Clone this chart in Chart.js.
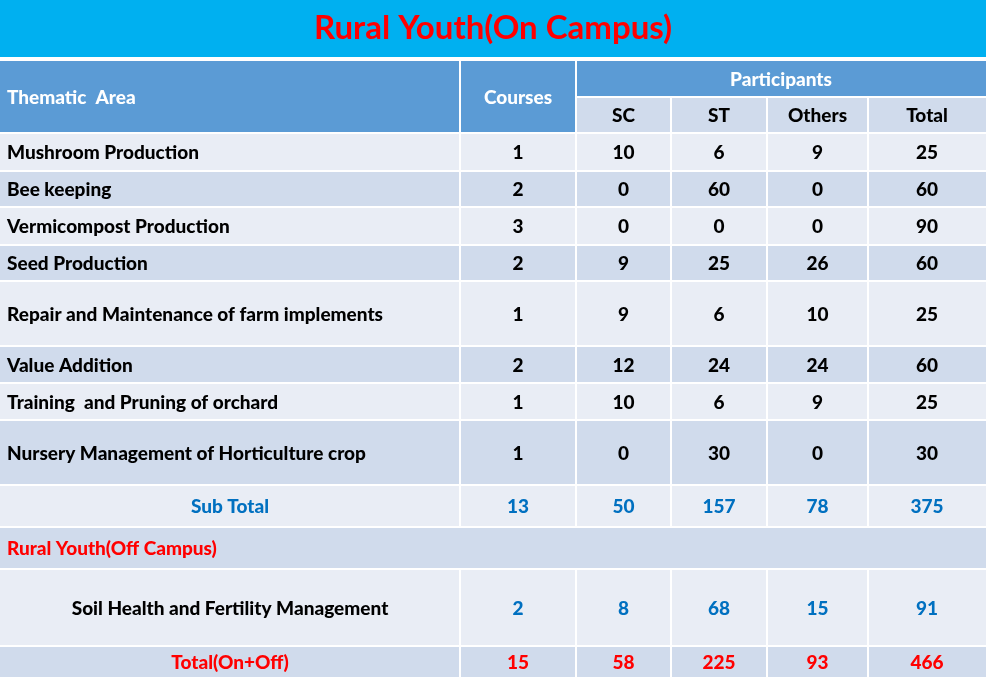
<!DOCTYPE html>
<html>
<head>
<meta charset="utf-8">
<script src="https://cdn.jsdelivr.net/npm/chart.js@4.4.1/dist/chart.umd.min.js"></script>
<style>
  html, body { margin: 0; padding: 0; background: #fff; }
  #wrap { width: 986px; height: 678px; position: relative; }
</style>
</head>
<body>
<div id="wrap"><canvas id="c"></canvas></div>
<script>
// ---- data ----
const titleText = "Rural Youth(On Campus)";
const headerLabels = ["Thematic  Area", "Courses", "Participants"];
const subHeaderLabels = ["SC", "ST", "Others", "Total"];
const categories = [
  "Mushroom Production",
  "Bee keeping",
  "Vermicompost Production",
  "Seed Production",
  "Repair and Maintenance of farm implements",
  "Value Addition",
  "Training  and Pruning of orchard",
  "Nursery Management of Horticulture crop"
];
const courses = [1, 2, 3, 2, 1, 2, 1, 1];
const sc      = [10, 0, 0, 9, 9, 12, 10, 0];
const st      = [6, 60, 0, 25, 6, 24, 6, 30];
const others  = [9, 0, 0, 26, 10, 24, 9, 0];
const total   = [25, 60, 90, 60, 25, 60, 25, 30];
const subTotalLabel = "Sub Total";
const subTotal = [13, 50, 157, 78, 375];
const offSectionLabel = "Rural Youth(Off Campus)";
const offCategories = ["Soil Health and Fertility Management"];
const offCourses = [2];
const offSC = [8];
const offST = [68];
const offOthers = [15];
const offTotal = [91];
const grandLabel = "Total(On+Off)";
const grandTotal = [15, 58, 225, 93, 466];

// ---- layout (sizes, in scale units) ----
const colWidths = [460, 116, 95, 96, 101, 118];
const rowHeights = [37, 36, 38, 36, 38, 36, 65, 37, 37, 65, 42, 42, 77, 32];

const colEdges = [0]; colWidths.forEach(w => colEdges.push(colEdges[colEdges.length-1] + w));
const rowEdges = [0]; rowHeights.forEach(h => rowEdges.push(rowEdges[rowEdges.length-1] + h));

const C = {
  bar: '#00B0F0', header: '#5B9BD5', light: '#E9EDF5', dark: '#D0DBEC',
  black: '#000000', blue: '#0070C0', red: '#FF0000', white: '#FFFFFF'
};
const FONT = 'Lato';
const FS = 19;
const WEIGHT = '900';

const tablePlugin = {
  id: 'tablePlugin',
  beforeDraw(chart) {
    const ctx = chart.ctx;
    ctx.save();
    ctx.fillStyle = '#fff';
    ctx.fillRect(0, 0, chart.width, chart.height);
    ctx.fillStyle = C.bar;
    ctx.fillRect(0, 0, chart.width, chart.chartArea.top - 3);
    ctx.restore();
  },
  afterDraw(chart) {
    const ctx = chart.ctx;
    const xs = chart.scales.x, ys = chart.scales.y;
    const X = i => xs.getPixelForValue(colEdges[i]);
    const Y = i => ys.getPixelForValue(rowEdges[i]);
    ctx.save();
    function cell(c0, c1, r0, r1, fill) {
      const x0 = X(c0), x1 = X(c1), y0 = Y(r0), y1 = Y(r1);
      ctx.fillStyle = fill;
      ctx.fillRect(x0 + (c0 === 0 ? 0 : 1), y0 + 1, x1 - x0 - (c0 === 0 ? 1 : 2) + (c1 === colWidths.length ? 1 : 0), y1 - y0 - 2);
    }
    function text(str, c0, c1, r0, r1, color, align, size) {
      ctx.font = WEIGHT + ' ' + (size || FS) + 'px ' + FONT;
      ctx.fillStyle = color;
      ctx.textBaseline = 'middle';
      const y = (Y(r0) + Y(r1)) / 2 + 1;
      if (align === 'left') {
        ctx.textAlign = 'left';
        ctx.fillText(str, X(c0) + 7, y);
      } else {
        ctx.textAlign = 'center';
        ctx.fillText(str, (X(c0) + X(c1)) / 2, y);
      }
    }
    // header
    cell(0, 1, 0, 2, C.header);
    cell(1, 2, 0, 2, C.header);
    cell(2, 6, 0, 1, C.header);
    for (let j = 0; j < 4; j++) cell(2 + j, 3 + j, 1, 2, C.dark);
    text(headerLabels[0], 0, 1, 0, 2, C.white, 'left');
    text(headerLabels[1], 1, 2, 0, 2, C.white, 'center');
    text(headerLabels[2], 2, 6, 0, 1, C.white, 'center');
    subHeaderLabels.forEach((s, j) => text(s, 2 + j, 3 + j, 1, 2, C.black, 'center'));

    // body rows
    function dataRow(r, label, vals, fill, labelColor, valColor, labelAlign) {
      for (let j = 0; j < 6; j++) cell(j, j + 1, r, r + 1, fill);
      text(label, 0, 1, r, r + 1, labelColor, labelAlign);
      vals.forEach((v, j) => text(String(v), 1 + j, 2 + j, r, r + 1, valColor, 'center'));
    }
    let r = 2;
    categories.forEach((cat, i) => {
      dataRow(r, cat, [courses[i], sc[i], st[i], others[i], total[i]], (i % 2 === 0) ? C.light : C.dark, C.black, C.black, 'left');
      r++;
    });
    dataRow(r, subTotalLabel, subTotal, C.light, C.blue, C.blue, 'center'); r++;
    cell(0, 6, r, r + 1, C.dark);
    text(offSectionLabel, 0, 1, r, r + 1, C.red, 'left'); r++;
    offCategories.forEach((cat, i) => {
      dataRow(r, cat, [offCourses[i], offSC[i], offST[i], offOthers[i], offTotal[i]], C.light, C.black, C.blue, 'center');
      r++;
    });
    dataRow(r, grandLabel, grandTotal, C.dark, C.red, C.red, 'center');
    ctx.restore();
  }
};

new Chart(document.getElementById('c'), {
  type: 'bar',
  data: { labels: [], datasets: [] },
  options: {
    responsive: true,
    maintainAspectRatio: false,
    animation: false,
    layout: { padding: 0 },
    plugins: {
      legend: { display: false },
      tooltip: { enabled: false },
      title: {
        display: true,
        text: titleText,
        color: C.red,
        font: { family: FONT, size: 33, weight: 'bold', lineHeight: 1.2 },
        padding: { top: 9, bottom: 11.4 }
      }
    },
    scales: {
      x: { type: 'linear', display: false, offset: false, min: 0, max: colEdges[colEdges.length-1] },
      y: { type: 'linear', display: false, offset: false, min: 0, max: rowEdges[rowEdges.length-1], reverse: true }
    }
  },
  plugins: [tablePlugin]
});
</script>
</body>
</html>
